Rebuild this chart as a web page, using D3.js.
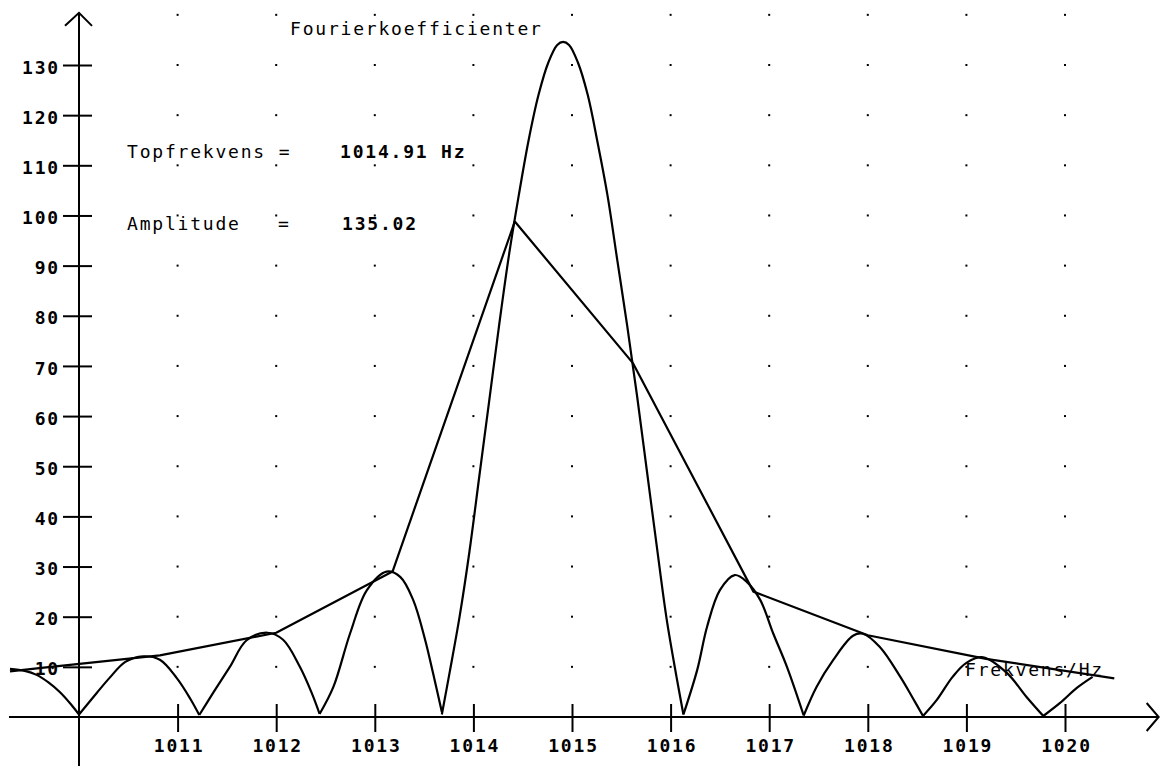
<!DOCTYPE html>
<meta charset="utf-8">
<script src="https://d3js.org/d3.v7.min.js"></script>
<style>
  body { margin: 0; background: #fff; }
  text { font-family: "DejaVu Sans Mono", monospace; fill: #000; }
</style>
<div id="chart"></div>
<script>
// tick values and grid rows
var xTickValues = [1011, 1012, 1013, 1014, 1015, 1016, 1017, 1018, 1019, 1020];
var yTickValues = [10, 20, 30, 40, 50, 60, 70, 80, 90, 100, 110, 120, 130];
var gridRows = [10, 20, 30, 40, 50, 60, 70, 80, 90, 100, 110, 120, 130, 140];

// discrete fourier coefficients (straight polyline)
var dftFreq = [1009.3, 1009.62, 1010.82, 1012.0, 1013.18, 1014.42, 1015.62, 1016.84, 1018.0, 1019.2, 1020.5];
var dftAmp  = [9.1, 9.8, 12.3, 16.8, 29.0, 98.8, 70.5, 25.0, 16.3, 11.6, 7.7];

// continuous spectrum, one lobe per array (frequency, amplitude)
var lobeL0 = [[1009.3, 9.6], [1009.45, 9.2], [1009.57, 8.4], [1009.69, 6.9], [1009.81, 4.9], [1009.92, 2.5], [1010.0, 0.5]];
var lobeL1 = [[1010.0, 0.5], [1010.18, 4.8], [1010.31, 7.8], [1010.47, 11], [1010.65, 12.1], [1010.82, 11.4], [1010.99, 7.8], [1011.13, 3.6], [1011.22, 0.4]];
var lobeL2 = [[1011.22, 0.4], [1011.36, 4.8], [1011.53, 10], [1011.70, 15.3], [1011.91, 16.8], [1012.07, 15.4], [1012.24, 10], [1012.36, 4.8], [1012.44, 0.6]];
var lobeL3 = [[1012.44, 0.6], [1012.58, 6], [1012.75, 16.7], [1012.92, 25.3], [1013.12, 29], [1013.26, 27.9], [1013.39, 23.3], [1013.51, 15.4], [1013.59, 8.8], [1013.68, 1]];
var lobeMain = [[1013.68, 0.5], [1013.76, 9], [1013.86, 20], [1013.96, 33], [1014.06, 48], [1014.16, 63], [1014.26, 78], [1014.36, 92],
                [1014.46, 104], [1014.56, 115], [1014.66, 124], [1014.76, 130.5], [1014.85, 134], [1014.91, 134.6], [1014.97, 134],
                [1015.06, 130.5], [1015.16, 124], [1015.26, 114.5], [1015.36, 104], [1015.46, 91], [1015.56, 78], [1015.66, 64],
                [1015.76, 49], [1015.86, 34], [1015.96, 19.5], [1016.06, 8], [1016.13, 0.5]];
var lobeR1 = [[1016.13, 0.5], [1016.27, 9.4], [1016.37, 18], [1016.50, 25.3], [1016.65, 28.3], [1016.77, 27], [1016.91, 23.3], [1017.04, 16.7], [1017.18, 10], [1017.35, 0.3]];
var lobeR2 = [[1017.35, 0.3], [1017.48, 6], [1017.65, 11.4], [1017.85, 16.2], [1017.95, 16.6], [1018.12, 14], [1018.33, 8], [1018.45, 4], [1018.56, 0.2]];
var lobeR3 = [[1018.56, 0.2], [1018.70, 3.4], [1018.86, 8], [1019.0, 10.8], [1019.17, 11.9], [1019.41, 8.8], [1019.61, 4], [1019.78, 0.2]];
var lobeR4 = [[1019.78, 0.2], [1019.95, 2.8], [1020.12, 5.8], [1020.28, 8.0]];
var lobes = [lobeL0, lobeL1, lobeL2, lobeL3, lobeMain, lobeR1, lobeR2, lobeR3, lobeR4];

var width = 1164, height = 766;

var svg = d3.select("#chart")
  .append("svg")
    .attr("width", width)
    .attr("height", height);

var x = d3.scaleLinear().domain([1010, 1020]).range([79, 1065]);
var y = d3.scaleLinear().domain([0, 130]).range([717, 65]);

// grid dots
gridRows.forEach(function(r) {
  svg.selectAll(null)
    .data(xTickValues)
    .enter()
    .append("rect")
      .attr("x", function(d) { return x(d) - 1; })
      .attr("y", y(r) - 1)
      .attr("width", 2)
      .attr("height", 2)
      .attr("fill", "#000");
});

// axis lines with arrow heads
var ax = svg.append("g").attr("stroke", "#000").attr("stroke-width", 2).attr("fill", "none");
ax.append("line").attr("x1", x(1010)).attr("x2", x(1010)).attr("y1", height).attr("y2", y(140.4));
ax.append("path").attr("d", "M" + (x(1010) - 14) + "," + (y(140.4) + 13) + "L" + x(1010) + "," + y(140.4) + "L" + (x(1010) + 13) + "," + (y(140.4) + 13));
ax.append("line").attr("x1", x(1009.29)).attr("x2", x(1020.95)).attr("y1", y(0)).attr("y2", y(0));
ax.append("path").attr("d", "M" + (x(1020.95) - 12) + "," + (y(0) - 14) + "L" + x(1020.95) + "," + y(0) + "L" + (x(1020.95) - 12) + "," + (y(0) + 14));

// y axis ticks and labels
var yAxis = svg.append("g")
  .attr("transform", "translate(" + x(1010) + ",0)")
  .call(d3.axisLeft(y).tickValues(yTickValues).tickSize(0).tickPadding(0).tickFormat(d3.format("d")));
yAxis.select(".domain").remove();
yAxis.selectAll(".tick line").attr("x1", -16).attr("x2", 13).attr("stroke", "#000").attr("stroke-width", 2);
yAxis.selectAll(".tick text")
  .attr("x", -19)
  .attr("dy", "0.45em")
  .style("font-size", "18px")
  .style("font-weight", "bold")
  .style("letter-spacing", "1.8px");

// x axis ticks and labels
var xAxis = svg.append("g")
  .attr("transform", "translate(0," + y(0) + ")")
  .call(d3.axisBottom(x).tickValues(xTickValues).tickSize(0).tickPadding(0).tickFormat(d3.format("d")));
xAxis.select(".domain").remove();
xAxis.selectAll(".tick line").attr("y1", -13).attr("y2", 15).attr("stroke", "#000").attr("stroke-width", 2);
xAxis.selectAll(".tick text")
  .attr("y", 35)
  .attr("dy", 0)
  .attr("dx", 1)
  .style("font-size", "18px")
  .style("font-weight", "bold")
  .style("letter-spacing", "1.8px");

// continuous spectrum
var lobeLine = d3.line()
  .x(function(d) { return x(d[0]); })
  .y(function(d) { return y(d[1]); })
  .curve(d3.curveCatmullRom);

svg.selectAll(".lobe")
  .data(lobes)
  .enter()
  .append("path")
    .attr("class", "lobe")
    .attr("d", lobeLine)
    .attr("fill", "none")
    .attr("stroke", "#000")
    .attr("stroke-width", 2.2)
    .attr("stroke-linejoin", "round");

// polyline through the coefficients
svg.append("path")
  .datum(d3.range(dftFreq.length))
  .attr("d", d3.line()
    .x(function(i) { return x(dftFreq[i]); })
    .y(function(i) { return y(dftAmp[i]); }))
  .attr("fill", "none")
  .attr("stroke", "#000")
  .attr("stroke-width", 2.2)
  .attr("stroke-linejoin", "round");

// texts
function label(txt, px, py, bold) {
  svg.append("text")
    .attr("x", px)
    .attr("y", py)
    .style("font-size", "18px")
    .style("font-weight", bold ? "bold" : "normal")
    .style("letter-spacing", "1.8px")
    .text(txt);
}
label("Fourierkoefficienter", 290, 35, false);
label("Topfrekvens =", 127, 158, false);
label("1014.91 Hz", 340, 158, true);
label("Amplitude", 127, 230, false);
label("=", 278, 230, false);
label("135.02", 342, 230, true);
label("Frekvens/Hz", 965, 676, false);
</script>
